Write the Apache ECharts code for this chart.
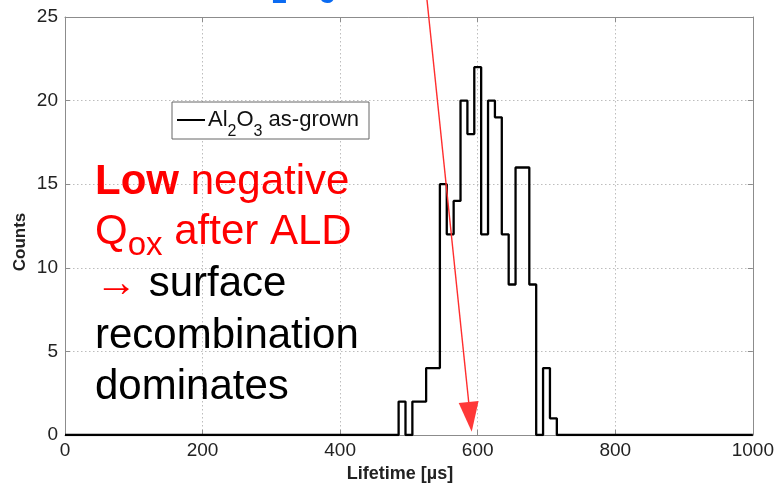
<!DOCTYPE html>
<html><head><meta charset="utf-8">
<script src="https://cdn.jsdelivr.net/npm/echarts@6/dist/echarts.min.js"></script>
<style>html,body{margin:0;padding:0;background:#fff}#c{width:777px;height:486px}</style>
</head><body><div id="c"></div>
<script>
// ---- data ----
const binCenters = [490,500,510,520,530,540,550,560,570,580,590,600,610,620,630,640,650,660,670,680,690,700,710];
const binCounts  = [2,0,2,2,4,4,15,12,14,20,18,22,12,20,19,12,9,16,16,9,0,4,1];
const binWidth = 10;
const xRange = [0, 1000];
const yRange = [0, 25];
const xStep = 200;
const yStep = 5;
const seriesName = 'Al2O3 as-grown';
const xTitle = 'Lifetime [\u00b5s]';
const yTitle = 'Counts';

// ---- build stair outline from bins (edges half a bin either side of each centre) ----
const stairs = [[xRange[0], 0]];
binCenters.forEach((c, i) => stairs.push([c - binWidth / 2, binCounts[i]]));
stairs.push([binCenters[binCenters.length - 1] + binWidth / 2, 0]);
stairs.push([xRange[1], 0]);

const FF = '"Liberation Sans", Arial, Helvetica, sans-serif';
const RED = '#ff0000';
const axisGray = '#8c8c8c';

const chart = echarts.init(document.getElementById('c'), null, {renderer: 'canvas'});

function mainAxis(extra) {
  return Object.assign({
    type: 'value',
    axisLine: {show: true, onZero: false, lineStyle: {color: axisGray, width: 1}},
    axisTick: {show: true, inside: true, length: 5, lineStyle: {color: axisGray}},
    splitLine: {show: true, lineStyle: {color: '#bdbdbd', type: [1.5, 2.5], width: 1}},
  }, extra);
}
function boxAxis(extra) {
  return Object.assign({
    type: 'value',
    axisLine: {show: true, onZero: false, lineStyle: {color: axisGray, width: 1}},
    axisTick: {show: true, inside: true, length: 5, lineStyle: {color: axisGray}},
    axisLabel: {show: false},
    splitLine: {show: false},
  }, extra);
}
const plainNum = v => String(v);

const option = {
  backgroundColor: '#ffffff',
  animation: false,
  grid: {left: 65, right: 19, top: 17, bottom: 51, containLabel: false},
  xAxis: [
    mainAxis({min: xRange[0], max: xRange[1], interval: xStep, position: 'bottom',
      axisLabel: {color: '#222', fontSize: 19, fontFamily: FF, margin: 6, formatter: plainNum}}),
    boxAxis({min: xRange[0], max: xRange[1], interval: xStep, position: 'top'})
  ],
  yAxis: [
    mainAxis({min: yRange[0], max: yRange[1], interval: yStep, position: 'left',
      axisLabel: {color: '#222', fontSize: 19, fontFamily: FF, margin: 7, formatter: plainNum}}),
    boxAxis({min: yRange[0], max: yRange[1], interval: yStep, position: 'right'})
  ],
  series: [{
    name: seriesName,
    type: 'line',
    step: 'end',
    data: stairs,
    symbol: 'none',
    color: '#000',
    itemStyle: {color: '#000'},
    lineStyle: {color: '#000', width: 2.3},
    z: 3
  }],
  graphic: [
    // legend box (drawn as graphic for exact layout)
    {type: 'rect', z: 20, shape: {x: 172, y: 102, width: 197, height: 37},
      style: {fill: '#fff', stroke: '#666', lineWidth: 1}},
    {type: 'line', z: 21, shape: {x1: 177, y1: 120, x2: 205, y2: 120},
      style: {stroke: '#000', lineWidth: 2}},
    {type: 'text', x: 208, y: 109, z: 21,
      style: {text: '{n|Al}{s|2}{n|O}{s|3}{n| as-grown}{z| }', align: 'left', verticalAlign: 'top',
        rich: {
          n: {fontSize: 22, lineHeight: 22, fontFamily: FF, fill: '#111', verticalAlign: 'top'},
          s: {fontSize: 16, lineHeight: 16, fontFamily: FF, fill: '#111', verticalAlign: 'bottom'},
          z: {fontSize: 1, lineHeight: 31, fontFamily: FF, fill: '#111', verticalAlign: 'bottom'}
        }}},
    // axis titles
    {type: 'text', x: 20, y: 242, rotation: Math.PI / 2, z: 10,
      style: {text: yTitle, fontSize: 17, fontWeight: 'bold', fontFamily: FF, fill: '#222', align: 'center', verticalAlign: 'middle'}},
    {type: 'text', x: 400, y: 465, z: 10,
      style: {text: xTitle, fontSize: 18, fontWeight: 'bold', fontFamily: FF, fill: '#222', align: 'center', verticalAlign: 'top'}},
    // cut-off blue slide title at top
    {type: 'text', x: 230, y: -40, z: 10,
      style: {text: '{a|Al}{s|2}{a|O}{s|3}{z| }', align: 'left', verticalAlign: 'top',
        rich: {
          a: {fontSize: 42, lineHeight: 42, fontWeight: 'bold', fontFamily: FF, fill: '#0b6bf2', verticalAlign: 'top'},
          s: {fontSize: 27, lineHeight: 27, fontWeight: 'bold', fontFamily: FF, fill: '#0b6bf2', verticalAlign: 'bottom'},
          z: {fontSize: 1, lineHeight: 49, fontFamily: FF, fill: '#0b6bf2', verticalAlign: 'bottom'}
        }}},
    // overlay annotation text
    {type: 'text', x: 95, y: 161, z: 10,
      style: {text: '{b|Low}{r| negative}', align: 'left', verticalAlign: 'top',
        rich: {
          b: {fontSize: 42, lineHeight: 42, fontWeight: 'bold', fontFamily: FF, fill: RED, verticalAlign: 'top'},
          r: {fontSize: 42, lineHeight: 42, fontFamily: FF, fill: RED, verticalAlign: 'top'}
        }}},
    {type: 'text', x: 95, y: 211, z: 10,
      style: {text: '{r|Q}{s|ox}{r| after ALD}{z| }', align: 'left', verticalAlign: 'top',
        rich: {
          r: {fontSize: 42, lineHeight: 42, fontFamily: FF, fill: RED, verticalAlign: 'top'},
          s: {fontSize: 33, lineHeight: 33, fontFamily: FF, fill: RED, verticalAlign: 'bottom'},
          z: {fontSize: 1, lineHeight: 51, fontFamily: FF, fill: RED, verticalAlign: 'bottom'}
        }}},
    {type: 'text', x: 95, y: 263, z: 10,
      style: {text: '{a|\u2192}{k| surface}', align: 'left', verticalAlign: 'top',
        rich: {
          a: {fontSize: 42, lineHeight: 42, fontFamily: FF, fill: RED, verticalAlign: 'top'},
          k: {fontSize: 42, lineHeight: 42, fontFamily: FF, fill: '#000', verticalAlign: 'top'}
        }}},
    {type: 'text', x: 95, y: 315, z: 10,
      style: {text: 'recombination', fontSize: 42, fontFamily: FF, fill: '#000', align: 'left', verticalAlign: 'top'}},
    {type: 'text', x: 95, y: 366, z: 10,
      style: {text: 'dominates', fontSize: 42, fontFamily: FF, fill: '#000', align: 'left', verticalAlign: 'top'}},
    // red arrow
    {type: 'line', z: 11,
      shape: {x1: 427, y1: 0, x2: 468.7, y2: 402},
      style: {stroke: '#ff2d2d', lineWidth: 1.4}},
    {type: 'polygon', z: 11,
      shape: {points: [[471.7, 431.7], [478.6, 400.9], [458.7, 402.9]]},
      style: {fill: '#ff3838'}}
  ]
};
chart.setOption(option);
</script>
</body></html>
